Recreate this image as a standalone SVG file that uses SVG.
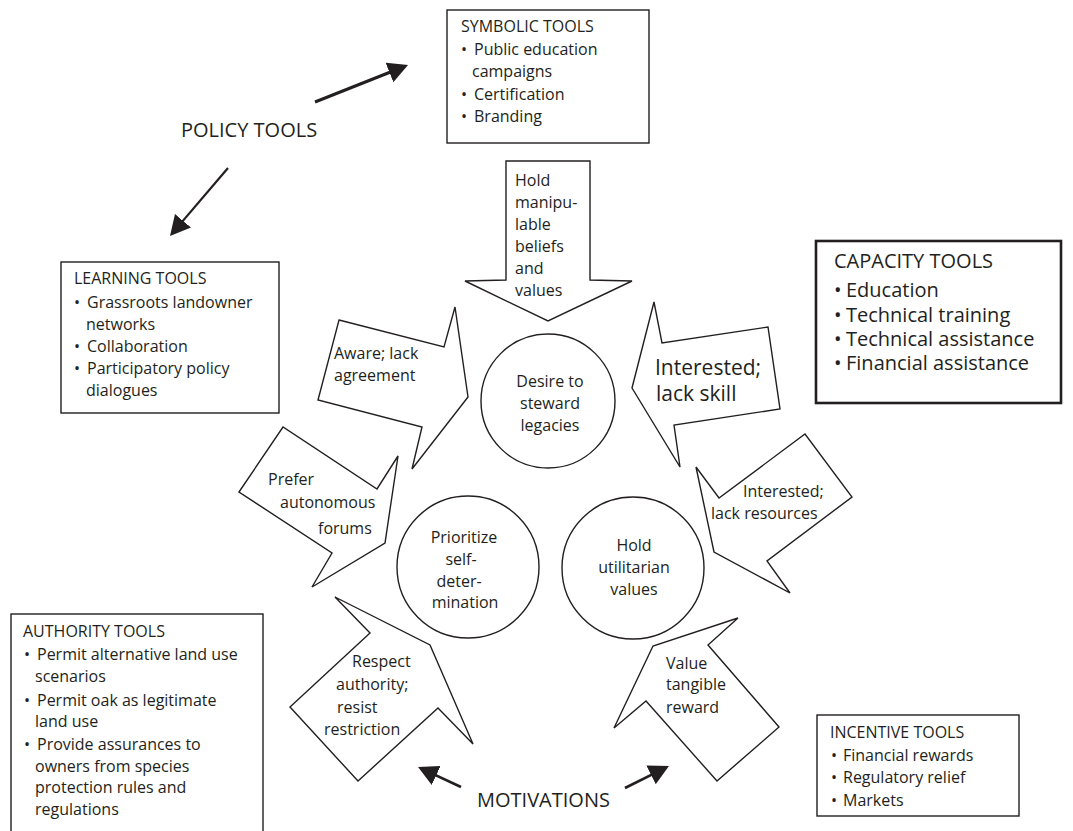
<svg xmlns="http://www.w3.org/2000/svg" width="1073" height="831" viewBox="0 0 1073 831">
<defs>
<style>
text{font-family:"Open Sans","Liberation Sans",sans-serif;fill:#231f20;font-size:16px}
.big{font-size:20px}
.box{fill:#fff;stroke:#231f20;stroke-width:1.4}
.cbox{fill:#fff;stroke:#231f20;stroke-width:2.6}
.shape{fill:#fff;stroke:#231f20;stroke-width:1.4;stroke-linejoin:miter}
.con{stroke:#231f20;fill:none}
.mid{text-anchor:middle}
</style>
<marker id="ah" markerUnits="userSpaceOnUse" markerWidth="22" markerHeight="22" refX="12" refY="10.5" orient="auto">
<path d="M0,0 L20,10.5 L0,21 z" fill="#231f20"/>
</marker>
</defs>
<rect width="1073" height="831" fill="#fff"/>

<g id="policy-tools"><text class="big" x="181" y="137">POLICY TOOLS</text></g>
<g id="motivations"><text class="big" x="477" y="807">MOTIVATIONS</text></g>

<g id="connectors">
<line class="con" x1="315" y1="102" x2="400.6" y2="68" stroke-width="3" marker-end="url(#ah)"/>
<line class="con" x1="228" y1="168" x2="175.2" y2="229.9" stroke-width="2.2" marker-end="url(#ah)"/>
<line class="con" x1="461" y1="787" x2="425.3" y2="770.4" stroke-width="2.7" marker-end="url(#ah)"/>
<line class="con" x1="625" y1="788" x2="661.8" y2="769.6" stroke-width="2.7" marker-end="url(#ah)"/>
</g>

<g id="symbolic-tools">
<rect class="box" x="447" y="10" width="202" height="133"/>
<text x="461" y="32">SYMBOLIC TOOLS</text>
<text x="461" y="55">•</text><text x="474" y="55">Public education</text>
<text x="472" y="77">campaigns</text>
<text x="461" y="100">•</text><text x="474" y="100">Certification</text>
<text x="461" y="122">•</text><text x="474" y="122">Branding</text>
</g>

<g id="learning-tools">
<rect class="box" x="61" y="262" width="218" height="151"/>
<text x="74" y="284">LEARNING TOOLS</text>
<text x="74" y="308">•</text><text x="87" y="308">Grassroots landowner</text>
<text x="86" y="330">networks</text>
<text x="74" y="352">•</text><text x="87" y="352">Collaboration</text>
<text x="74" y="374">•</text><text x="87" y="374">Participatory policy</text>
<text x="86" y="396">dialogues</text>
</g>

<g id="capacity-tools">
<rect class="cbox" x="816" y="241" width="245" height="162"/>
<text class="big" x="834" y="268">CAPACITY TOOLS</text>
<text class="big" x="834" y="297">•</text><text class="big" x="846" y="297">Education</text>
<text class="big" x="834" y="322">•</text><text class="big" x="846" y="322">Technical training</text>
<text class="big" x="834" y="346">•</text><text class="big" x="846" y="346">Technical assistance</text>
<text class="big" x="834" y="370">•</text><text class="big" x="846" y="370">Financial assistance</text>
</g>

<g id="authority-tools">
<rect class="box" x="11" y="614" width="252" height="240"/>
<text x="23" y="637">AUTHORITY TOOLS</text>
<text x="24" y="660">•</text><text x="37" y="660">Permit alternative land use</text>
<text x="35" y="682">scenarios</text>
<text x="24" y="706">•</text><text x="37" y="706">Permit oak as legitimate</text>
<text x="35" y="727">land use</text>
<text x="24" y="750">•</text><text x="37" y="750">Provide assurances to</text>
<text x="35" y="772">owners from species</text>
<text x="35" y="793">protection rules and</text>
<text x="35" y="815">regulations</text>
</g>

<g id="incentive-tools">
<rect class="box" x="817" y="715" width="202" height="101"/>
<text x="830" y="738">INCENTIVE TOOLS</text>
<text x="831" y="761">•</text><text x="843" y="761">Financial rewards</text>
<text x="831" y="783">•</text><text x="843" y="783">Regulatory relief</text>
<text x="831" y="806">•</text><text x="843" y="806">Markets</text>
</g>

<g id="arrow-manipulable">
<polygon class="shape" points="506,161 590,161 590,280 632,281 548,321 465,281 506,280"/>
<text x="515" y="186">Hold</text>
<text x="515" y="208">manipu-</text>
<text x="515" y="230">lable</text>
<text x="515" y="252">beliefs</text>
<text x="515" y="274">and</text>
<text x="515" y="296">values</text>
</g>

<g id="arrow-aware">
<polygon class="shape" points="339,320 444,347 455,307 468,397 412,469 422,427 318,400"/>
<text x="334" y="359">Aware; lack</text>
<text x="334" y="381">agreement</text>
</g>

<g id="arrow-prefer">
<polygon class="shape" points="239,492 283,427 377,489 398,456 385,543 312,587 332,553"/>
<text x="268" y="485">Prefer</text>
<text x="280" y="508">autonomous</text>
<text x="318" y="534">forums</text>
</g>

<g id="arrow-respect">
<polygon class="shape" points="335,597 370,633 290,707 358,781 438,708 473,744 430,645"/>
<text x="352" y="667">Respect</text>
<text x="336" y="690">authority;</text>
<text x="337" y="713">resist</text>
<text x="324" y="735">restriction</text>
</g>

<g id="arrow-skill">
<polygon class="shape" points="654,302 662,343 768,327 780,409 674,425 680,467 632,388"/>
<text class="big" x="655" y="375" style="font-size:21px">Interested;</text>
<text class="big" x="656" y="401" style="font-size:21px">lack skill</text>
</g>

<g id="arrow-resources">
<polygon class="shape" points="696,467 719,498 805,434 852,497 767,561 790,593 714,552"/>
<text x="743" y="497">Interested;</text>
<text x="711" y="519">lack resources</text>
</g>

<g id="arrow-reward">
<polygon class="shape" points="738,618 708,645 779,727 717,781 646,701 614,728 653,646"/>
<text x="666" y="669">Value</text>
<text x="666" y="690">tangible</text>
<text x="666" y="713">reward</text>
</g>

<g id="circle-legacies">
<circle class="shape" cx="548" cy="401" r="67"/>
<text class="mid" x="550" y="387">Desire to</text>
<text class="mid" x="550" y="409">steward</text>
<text class="mid" x="550" y="431">legacies</text>
</g>

<g id="circle-self-determination">
<circle class="shape" cx="468" cy="567" r="71"/>
<text class="mid" x="464" y="543">Prioritize</text>
<text class="mid" x="461" y="565">self-</text>
<text class="mid" x="459" y="587">deter-</text>
<text class="mid" x="465" y="608">mination</text>
</g>

<g id="circle-utilitarian">
<circle class="shape" cx="633" cy="568" r="71"/>
<text class="mid" x="634" y="551">Hold</text>
<text class="mid" x="634" y="573">utilitarian</text>
<text class="mid" x="634" y="595">values</text>
</g>
</svg>
